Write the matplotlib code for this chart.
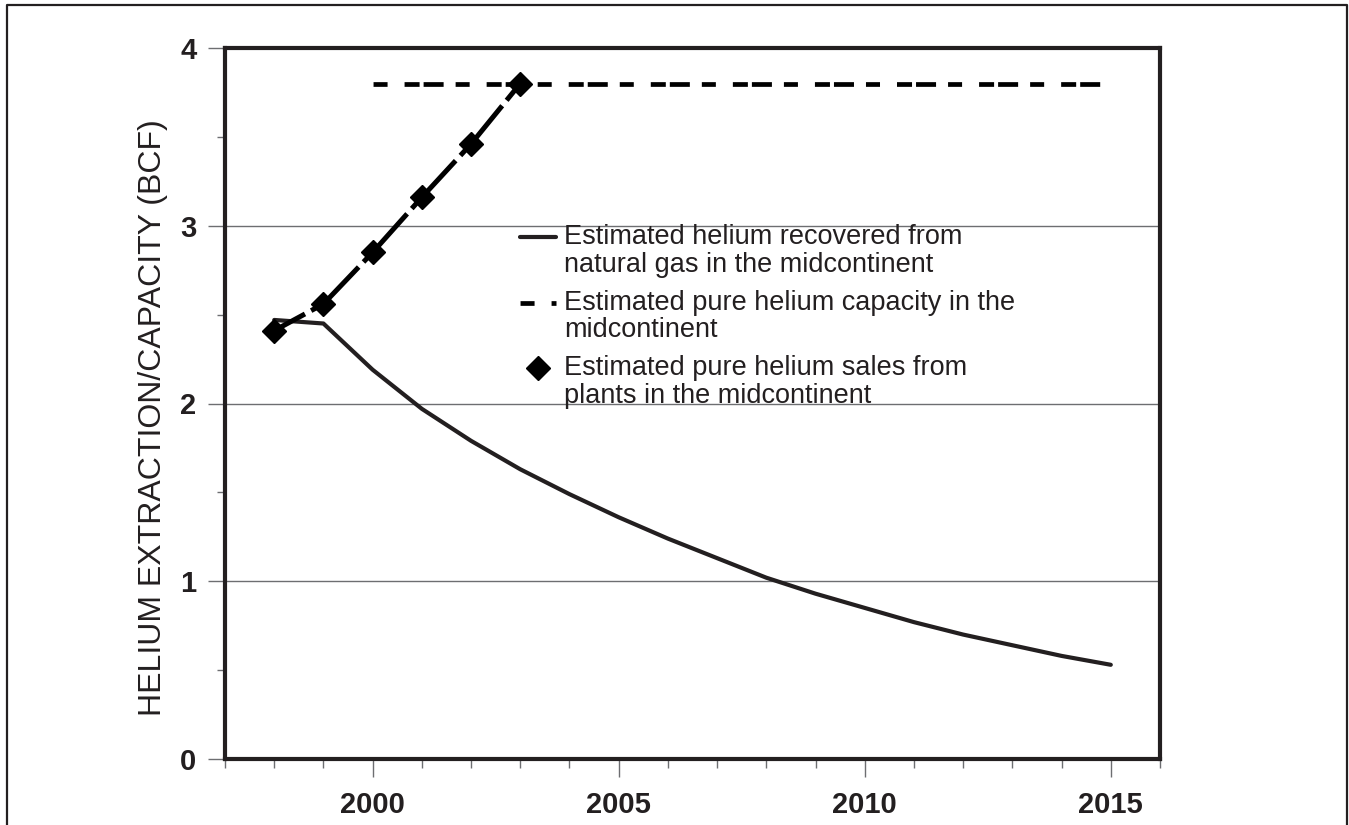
import numpy as np
import matplotlib
matplotlib.use('Agg')
import matplotlib.pyplot as plt
from matplotlib.ticker import FixedLocator, MultipleLocator
from matplotlib.lines import Line2D
from matplotlib.legend_handler import HandlerLine2D

plt.rcParams['font.family'] = ['Liberation Sans', 'DejaVu Sans']

# ---- data ----
recovered_years = [1998, 1999, 2000, 2001, 2002, 2003, 2004, 2005, 2006, 2007,
                   2008, 2009, 2010, 2011, 2012, 2013, 2014, 2015]
recovered = [2.47, 2.45, 2.19, 1.97, 1.79, 1.63, 1.49, 1.36, 1.24, 1.13,
             1.02, 0.93, 0.85, 0.77, 0.70, 0.64, 0.58, 0.53]
capacity_years = [2000, 2015]
capacity = [3.8, 3.8]
sales_years = [1998, 1999, 2000, 2001, 2002, 2003]
sales = [2.41, 2.56, 2.85, 3.16, 3.46, 3.80]
x_major = [2000, 2005, 2010, 2015]
x_labels = ['2000', '2005', '2010', '2015']
y_major = [0, 1, 2, 3, 4]
y_labels = ['0', '1', '2', '3', '4']
legend_labels = ['Estimated helium recovered from\nnatural gas in the midcontinent',
                 'Estimated pure helium capacity in the\nmidcontinent',
                 'Estimated pure helium sales from\nplants in the midcontinent']
ylabel = 'HELIUM EXTRACTION/CAPACITY (BCF)'

W, H = 1349, 825
ink = '#231f20'
tickc = '#6d6e71'


class FirstLineHandler(HandlerLine2D):
    """Place the legend handle next to the first line of a two-line label."""
    def __init__(self, dy=10.0, **kw):
        super().__init__(**kw)
        self.dy = dy

    def create_artists(self, legend, orig_handle, xdescent, ydescent,
                       width, height, fontsize, trans):
        arts = super().create_artists(legend, orig_handle, xdescent, ydescent,
                                      width, height, fontsize, trans)
        for a in arts:
            a.set_ydata(np.asarray(a.get_ydata(), dtype=float) + self.dy)
        return arts


fig = plt.figure(figsize=(W / 100, H / 100), dpi=100)
ax = fig.add_axes([225 / W, 1 - 759 / H, (1160 - 225) / W, (759 - 48) / H])

# curves
l1, = ax.plot(recovered_years, recovered, color=ink, lw=3.0,
              solid_capstyle='round', solid_joinstyle='round', zorder=3)
cap_ls = (10.8, (3.18, 0.85, 4.24, 2.54, 2.97, 3.6))
l2, = ax.plot(capacity_years, capacity, color='black', lw=3.4,
              linestyle=cap_ls, zorder=3)
ax.plot(sales_years, sales, color='black', lw=3.6,
        linestyle=(6, (13, 1.4)), zorder=3)
l3, = ax.plot(sales_years, sales, linestyle='none', marker='D', ms=12.5,
              color='black', zorder=4)

ax.set_xlim(1997, 2016)
ax.set_ylim(0, 4)

ax.xaxis.set_major_locator(FixedLocator(x_major))
ax.set_xticklabels(x_labels)
ax.xaxis.set_minor_locator(MultipleLocator(1))
ax.yaxis.set_major_locator(FixedLocator(y_major))
ax.set_yticklabels(y_labels)
ax.yaxis.set_minor_locator(MultipleLocator(0.5))

ax.tick_params(axis='x', which='major', direction='out', length=13, width=1,
               color=tickc, pad=10, labelsize=21, labelcolor=ink)
ax.tick_params(axis='x', which='minor', direction='out', length=6.5, width=1,
               color=tickc)
ax.tick_params(axis='y', which='major', direction='out', length=12.5, width=1,
               color=tickc, pad=8, labelsize=21, labelcolor=ink)
ax.tick_params(axis='y', which='minor', direction='out', length=6, width=1,
               color=tickc)
for lab in ax.get_xticklabels() + ax.get_yticklabels():
    lab.set_fontweight('bold')

ax.yaxis.grid(True, which='major', color=tickc, lw=1)
ax.set_axisbelow(True)

for sp in ax.spines.values():
    sp.set_linewidth(3)
    sp.set_color(ink)

ax.set_ylabel(ylabel, fontsize=23, color=ink)
ax.yaxis.set_label_coords(-0.061, (759 - 418) / 711)

leg = ax.legend([l1, l2, l3], legend_labels, loc='upper left',
                bbox_to_anchor=(520 / W, 1 - 224 / H),
                bbox_transform=fig.transFigure, frameon=False,
                fontsize=19.5, borderpad=0, borderaxespad=0,
                handlelength=1.33, handletextpad=0.3, labelspacing=0.44,
                numpoints=1,
                handler_map={Line2D: FirstLineHandler(dy=10.0)})
for t in leg.get_texts():
    t.set_color(ink)
    t.set_linespacing(1.08)

# outer frame
frame = Line2D([7 / W, 7 / W, 1347 / W, 1347 / W],
               [-0.1, 1 - 5 / H, 1 - 5 / H, -0.1],
               transform=fig.transFigure, color=ink, lw=1.6)
fig.add_artist(frame)

fig.savefig('out.png', dpi=100)
